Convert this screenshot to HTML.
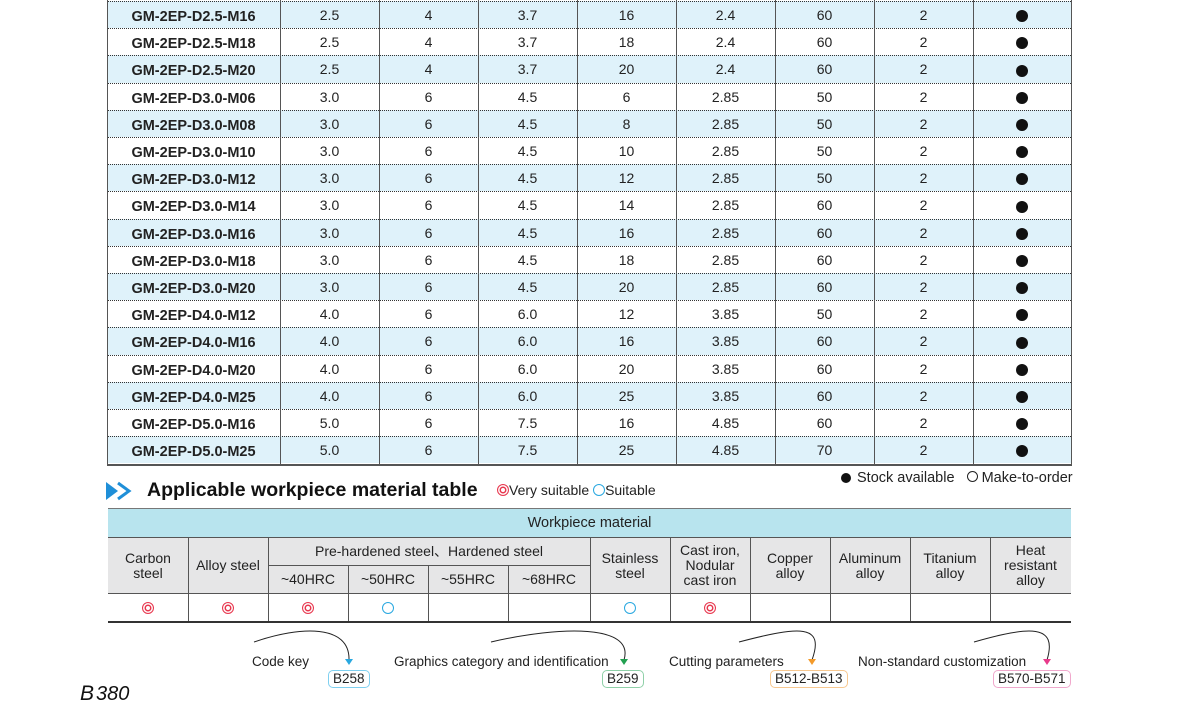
<!DOCTYPE html>
<html><head><meta charset="utf-8"><style>
body{margin:0;width:1181px;height:726px;background:#fff;position:relative;overflow:hidden;font-family:"Liberation Sans",Arial,sans-serif;color:#222}
.r{position:absolute;left:107px;width:964px;height:27.2px;border-top:1px dotted #333;box-sizing:border-box;display:flex;font-size:14px;line-height:27px}
.r.b{background:#dff2fa}
.r span{display:block;text-align:center;width:99px}
.r span:first-child{width:173px;font-weight:bold;font-size:14.5px;position:relative;top:2px}
.r span:last-child{width:98px}
.v{position:absolute;top:0;height:465px;width:1px;background:#555}
.dot{display:inline-block;width:12px;height:12px;border-radius:50%;background:#111;vertical-align:middle}
.m{position:absolute;font-size:14px;text-align:center;line-height:15px;display:flex;align-items:center;justify-content:center;box-sizing:border-box}
.vr{position:absolute;width:1px;background:#555}
.red{display:inline-block;width:10px;height:10px;border-radius:50%;border:1.5px solid #e8384f;box-shadow:inset 0 0 0 1.5px #fff,inset 0 0 0 3px #e8384f}
.blu{display:inline-block;width:10px;height:10px;border-radius:50%;border:1.5px solid #29a8e0}
.box{position:absolute;font-size:13.5px;border-radius:5px;padding:0 4px;line-height:15px;height:16px}
.lb{position:absolute;font-size:13.5px}
</style></head><body>
<div class="r b" style="top:1px"><span>GM-2EP-D2.5-M16</span><span>2.5</span><span>4</span><span>3.7</span><span>16</span><span>2.4</span><span>60</span><span>2</span><span><i class="dot"></i></span></div>
<div class="r" style="top:28.2px"><span>GM-2EP-D2.5-M18</span><span>2.5</span><span>4</span><span>3.7</span><span>18</span><span>2.4</span><span>60</span><span>2</span><span><i class="dot"></i></span></div>
<div class="r b" style="top:55.4px"><span>GM-2EP-D2.5-M20</span><span>2.5</span><span>4</span><span>3.7</span><span>20</span><span>2.4</span><span>60</span><span>2</span><span><i class="dot"></i></span></div>
<div class="r" style="top:82.6px"><span>GM-2EP-D3.0-M06</span><span>3.0</span><span>6</span><span>4.5</span><span>6</span><span>2.85</span><span>50</span><span>2</span><span><i class="dot"></i></span></div>
<div class="r b" style="top:109.8px"><span>GM-2EP-D3.0-M08</span><span>3.0</span><span>6</span><span>4.5</span><span>8</span><span>2.85</span><span>50</span><span>2</span><span><i class="dot"></i></span></div>
<div class="r" style="top:137px"><span>GM-2EP-D3.0-M10</span><span>3.0</span><span>6</span><span>4.5</span><span>10</span><span>2.85</span><span>50</span><span>2</span><span><i class="dot"></i></span></div>
<div class="r b" style="top:164.2px"><span>GM-2EP-D3.0-M12</span><span>3.0</span><span>6</span><span>4.5</span><span>12</span><span>2.85</span><span>50</span><span>2</span><span><i class="dot"></i></span></div>
<div class="r" style="top:191.4px"><span>GM-2EP-D3.0-M14</span><span>3.0</span><span>6</span><span>4.5</span><span>14</span><span>2.85</span><span>60</span><span>2</span><span><i class="dot"></i></span></div>
<div class="r b" style="top:218.6px"><span>GM-2EP-D3.0-M16</span><span>3.0</span><span>6</span><span>4.5</span><span>16</span><span>2.85</span><span>60</span><span>2</span><span><i class="dot"></i></span></div>
<div class="r" style="top:245.8px"><span>GM-2EP-D3.0-M18</span><span>3.0</span><span>6</span><span>4.5</span><span>18</span><span>2.85</span><span>60</span><span>2</span><span><i class="dot"></i></span></div>
<div class="r b" style="top:273px"><span>GM-2EP-D3.0-M20</span><span>3.0</span><span>6</span><span>4.5</span><span>20</span><span>2.85</span><span>60</span><span>2</span><span><i class="dot"></i></span></div>
<div class="r" style="top:300.2px"><span>GM-2EP-D4.0-M12</span><span>4.0</span><span>6</span><span>6.0</span><span>12</span><span>3.85</span><span>50</span><span>2</span><span><i class="dot"></i></span></div>
<div class="r b" style="top:327.4px"><span>GM-2EP-D4.0-M16</span><span>4.0</span><span>6</span><span>6.0</span><span>16</span><span>3.85</span><span>60</span><span>2</span><span><i class="dot"></i></span></div>
<div class="r" style="top:354.6px"><span>GM-2EP-D4.0-M20</span><span>4.0</span><span>6</span><span>6.0</span><span>20</span><span>3.85</span><span>60</span><span>2</span><span><i class="dot"></i></span></div>
<div class="r b" style="top:381.8px"><span>GM-2EP-D4.0-M25</span><span>4.0</span><span>6</span><span>6.0</span><span>25</span><span>3.85</span><span>60</span><span>2</span><span><i class="dot"></i></span></div>
<div class="r" style="top:409px"><span>GM-2EP-D5.0-M16</span><span>5.0</span><span>6</span><span>7.5</span><span>16</span><span>4.85</span><span>60</span><span>2</span><span><i class="dot"></i></span></div>
<div class="r b" style="top:436.2px"><span>GM-2EP-D5.0-M25</span><span>5.0</span><span>6</span><span>7.5</span><span>25</span><span>4.85</span><span>70</span><span>2</span><span><i class="dot"></i></span></div>
<div style="position:absolute;left:107px;top:464px;width:965px;height:1.5px;background:#555"></div>
<div class="v" style="left:107px"></div><div class="v" style="left:280px"></div><div class="v" style="left:379px"></div><div class="v" style="left:478px"></div><div class="v" style="left:577px"></div><div class="v" style="left:676px"></div><div class="v" style="left:775px"></div><div class="v" style="left:874px"></div><div class="v" style="left:973px"></div><div class="v" style="left:1071px"></div>

<div style="position:absolute;left:841px;top:470px;font-size:14.5px"><i class="dot" style="width:10px;height:10px;margin-right:6px;vertical-align:-1px"></i>Stock available <i style="display:inline-block;width:9px;height:9px;border:1px solid #222;border-radius:50%;margin:0 4px 0 8px"></i>Make-to-order</div>

<svg style="position:absolute;left:106px;top:481px" width="30" height="20"><polygon points="0,1 12,10 0,19" fill="#1f8fd8"/><polyline points="12,2 23,10 12,18" fill="none" stroke="#1f8fd8" stroke-width="3"/></svg>
<div style="position:absolute;left:147px;top:479px;font-size:19.5px;font-weight:bold;color:#111">Applicable workpiece material table</div>
<div style="position:absolute;left:497px;top:482px;font-size:14px"><i class="red" style="vertical-align:-1px"></i>Very suitable <i class="blu" style="vertical-align:-1px"></i>Suitable</div>

<div style="position:absolute;left:108px;top:508px;width:963px;height:29px;background:#b8e4ee;border-top:1.5px solid #777;box-sizing:border-box;text-align:center;font-size:14.5px;line-height:29px">Workpiece material</div>
<div style="position:absolute;left:108px;top:537px;width:963px;height:57px;background:#e6e6e7;border-top:1px solid #555;border-bottom:1px solid #555;box-sizing:border-box"></div>
<div style="position:absolute;left:268px;top:565px;width:322px;height:1px;background:#555"></div>
<div style="position:absolute;left:108px;top:621px;width:963px;height:1.5px;background:#333"></div>
<div class="vr" style="left:188px;top:537px;height:84px"></div>
<div class="vr" style="left:268px;top:537px;height:84px"></div>
<div class="vr" style="left:348px;top:565px;height:56px"></div>
<div class="vr" style="left:428px;top:565px;height:56px"></div>
<div class="vr" style="left:508px;top:565px;height:56px"></div>
<div class="vr" style="left:590px;top:537px;height:84px"></div>
<div class="vr" style="left:670px;top:537px;height:84px"></div>
<div class="vr" style="left:750px;top:537px;height:84px"></div>
<div class="vr" style="left:830px;top:537px;height:84px"></div>
<div class="vr" style="left:910px;top:537px;height:84px"></div>
<div class="vr" style="left:990px;top:537px;height:84px"></div>

<div class="m" style="left:108px;top:537px;width:80px;height:57px">Carbon<br>steel</div>
<div class="m" style="left:188px;top:537px;width:80px;height:57px">Alloy steel</div>
<div class="m" style="left:268px;top:537px;width:322px;height:28px">Pre-hardened steel、Hardened steel</div>
<div class="m" style="left:268px;top:565px;width:80px;height:29px">~40HRC</div>
<div class="m" style="left:348px;top:565px;width:80px;height:29px">~50HRC</div>
<div class="m" style="left:428px;top:565px;width:80px;height:29px">~55HRC</div>
<div class="m" style="left:508px;top:565px;width:82px;height:29px">~68HRC</div>
<div class="m" style="left:590px;top:537px;width:80px;height:57px">Stainless<br>steel</div>
<div class="m" style="left:670px;top:537px;width:80px;height:57px">Cast iron,<br>Nodular<br>cast iron</div>
<div class="m" style="left:750px;top:537px;width:80px;height:57px">Copper<br>alloy</div>
<div class="m" style="left:830px;top:537px;width:80px;height:57px">Aluminum<br>alloy</div>
<div class="m" style="left:910px;top:537px;width:80px;height:57px">Titanium<br>alloy</div>
<div class="m" style="left:990px;top:537px;width:81px;height:57px">Heat<br>resistant<br>alloy</div>

<div class="m" style="left:108px;top:594px;width:80px;height:27px"><i class="red"></i></div>
<div class="m" style="left:188px;top:594px;width:80px;height:27px"><i class="red"></i></div>
<div class="m" style="left:268px;top:594px;width:80px;height:27px"><i class="red"></i></div>
<div class="m" style="left:348px;top:594px;width:80px;height:27px"><i class="blu"></i></div>
<div class="m" style="left:590px;top:594px;width:80px;height:27px"><i class="blu"></i></div>
<div class="m" style="left:670px;top:594px;width:80px;height:27px"><i class="red"></i></div>

<svg style="position:absolute;left:0;top:630px" width="1181" height="40">
<path d="M254,12 C300,-4 350,-6 349,30" fill="none" stroke="#222" stroke-width="1"/><polygon points="345,29 353,29 349,35" fill="#29a8e0"/>
<path d="M491,12 C560,-4 635,-6 624,30" fill="none" stroke="#222" stroke-width="1"/><polygon points="620,29 628,29 624,35" fill="#22a050"/>
<path d="M739,12 C800,-4 825,-6 812,30" fill="none" stroke="#222" stroke-width="1"/><polygon points="808,29 816,29 812,35" fill="#f39a2a"/>
<path d="M974,12 C1030,-4 1058,-6 1047,30" fill="none" stroke="#222" stroke-width="1"/><polygon points="1043,29 1051,29 1047,35" fill="#e83a8a"/>
</svg>
<div class="lb" style="left:252px;top:654px">Code key</div>
<div class="lb" style="left:394px;top:654px">Graphics category and identification</div>
<div class="lb" style="left:669px;top:654px">Cutting parameters</div>
<div class="lb" style="left:858px;top:654px">Non-standard customization</div>
<div class="box" style="left:328px;top:670px;border:1px solid #7fd0f0">B258</div>
<div class="box" style="left:602px;top:670px;border:1px solid #8fd0a8">B259</div>
<div class="box" style="left:770px;top:670px;border:1px solid #f8c890">B512-B513</div>
<div class="box" style="left:993px;top:670px;border:1px solid #f0a8cc">B570-B571</div>
<div style="position:absolute;left:80px;top:682px;font-size:21px;font-style:italic;color:#111">B<span style="font-size:20px;margin-left:2px">380</span></div>
</body></html>
